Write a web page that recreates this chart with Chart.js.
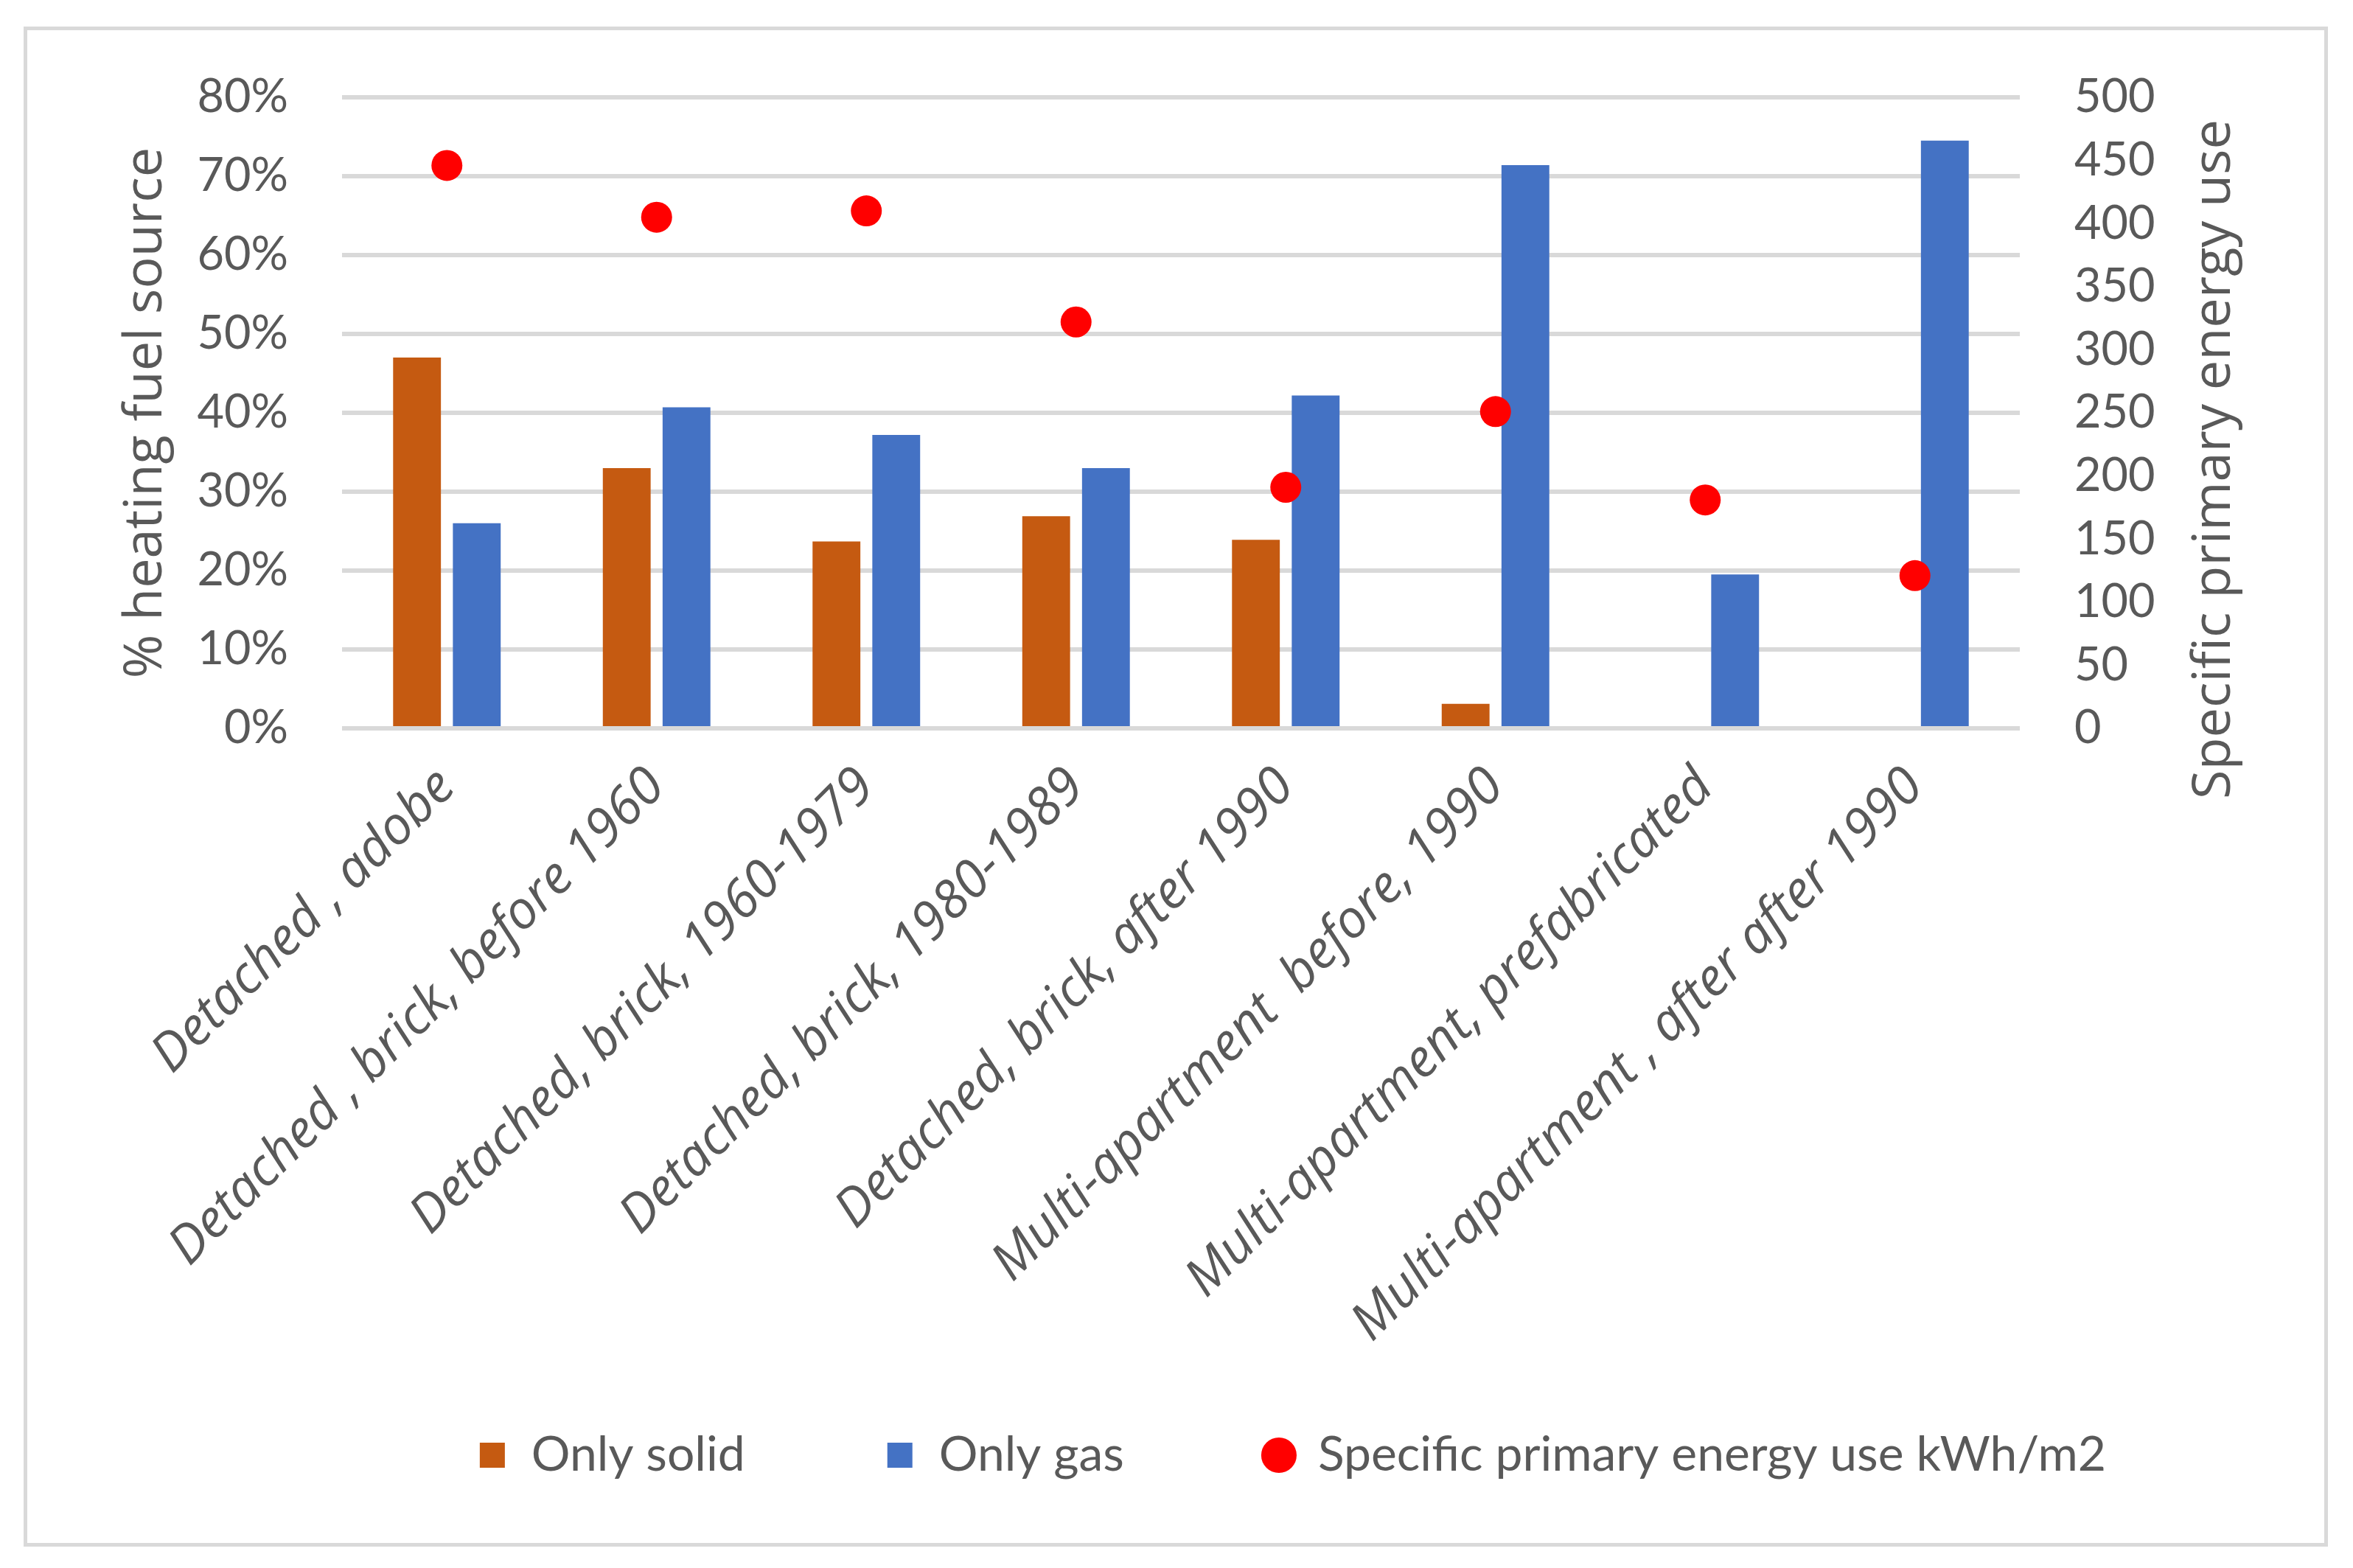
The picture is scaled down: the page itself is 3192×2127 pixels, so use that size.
<!DOCTYPE html>
<html lang="en">
<head>
  <meta charset="UTF-8">
  <title>Heating fuel source and primary energy use</title>
  <script src="https://cdn.jsdelivr.net/npm/chart.js"></script>
  <style>
    html, body {
      margin: 0;
      padding: 0;
      background: #ffffff;
      overflow: hidden;
    }
    #frame {
      position: absolute;
      left: 32px;
      top: 36px;
      width: 3116px;
      height: 2052px;
      border: 5px solid #d9d9d9;
    }
    #chartBox {
      position: absolute;
      left: 0;
      top: 0;
      width: 3192px;
      height: 2127px;
    }
  </style>
</head>
<body>
  <div id="frame"></div>
  <div id="chartBox">
    <canvas id="fuelChart"></canvas>
  </div>

  <script>
    // categories (x axis)
    const categories = [
      'Detached , adobe',
      'Detached , brick, before 1960',
      'Detached, brick, 1960-1979',
      'Detached, brick, 1980-1989',
      'Detached, brick, after 1990',
      'Multi-apartment  before, 1990',
      'Multi-apartment, prefabricated',
      'Multi-apartment , after after 1990'
    ];

    // % of heating fuel source (left axis)
    const onlySolid = [47.0, 33.0, 23.7, 26.9, 23.9, 3.1, null, null];
    const onlyGas = [26.0, 40.7, 37.2, 33.0, 42.2, 71.4, 19.5, 74.5];

    // specific primary energy use, kWh/m2 (right axis)
    const energyUse = [446, 405, 410, 322, 191, 251, 181, 121];

    const seriesNames = ['Only solid', 'Only gas', 'Specific primary energy use kWh/m2'];
    const leftTitle = '% heating fuel source';
    const rightTitle = 'Specific primary energy use';

    const textColor = '#595959';
    const gridColor = '#d9d9d9';

    // right axis title reads bottom-to-top, which the scale title can't do
    const rightTitlePlugin = {
      id: 'rightTitle',
      afterDraw(chart) {
        const ctx = chart.ctx;
        const area = chart.chartArea;
        const x = chart.scales.y1.right - 43;
        const y = (area.top + area.bottom) / 2 + 63;
        ctx.save();
        ctx.font = '72px "Open Sans"';
        ctx.fillStyle = textColor;
        ctx.textAlign = 'center';
        ctx.textBaseline = 'middle';
        ctx.translate(x, y);
        ctx.rotate(-Math.PI / 2);
        ctx.fillText(rightTitle, 0, 0);
        ctx.restore();
      }
    };

    const ctx = document.getElementById('fuelChart').getContext('2d');

    new Chart(ctx, {
      type: 'bar',
      data: {
        labels: categories,
        datasets: [
          {
            label: seriesNames[0],
            data: onlySolid,
            backgroundColor: '#c55a11',
            pointStyle: 'rect',
            yAxisID: 'y',
            categoryPercentage: 0.57,
            barPercentage: 0.8
          },
          {
            label: seriesNames[1],
            data: onlyGas,
            backgroundColor: '#4472c4',
            pointStyle: 'rect',
            yAxisID: 'y',
            categoryPercentage: 0.57,
            barPercentage: 0.8
          },
          {
            label: seriesNames[2],
            data: energyUse,
            type: 'line',
            showLine: false,
            yAxisID: 'y1',
            order: -1,
            backgroundColor: '#ff0000',
            borderColor: '#ff0000',
            pointBackgroundColor: '#ff0000',
            pointBorderWidth: 0,
            pointRadius: 21,
            pointHoverRadius: 21,
            pointStyle: 'circle'
          }
        ]
      },
      options: {
        responsive: true,
        maintainAspectRatio: false,
        animation: false,
        layout: {
          padding: { left: 155, right: 145, top: 132, bottom: 110 }
        },
        plugins: {
          tooltip: { enabled: false },
          legend: {
            position: 'bottom',
            align: 'end',
            labels: {
              usePointStyle: true,
              boxHeight: 34,
              padding: 190,
              color: textColor,
              font: { family: 'Lato', size: 66 },
              sort: (a, b) => a.datasetIndex - b.datasetIndex
            }
          }
        },
        scales: {
          x: {
            grid: { display: false },
            border: { display: false },
            ticks: {
              autoSkip: false,
              minRotation: 45,
              maxRotation: 45,
              padding: 30,
              color: textColor,
              font: { family: 'Open Sans', size: 71, style: 'italic' }
            },
            afterFit: (scale) => {
              scale.height = 763;
              // long rotated labels run past the legend's top padding; don't clip them
              scale._computeLabelArea = () => null;
            }
          },
          y: {
            position: 'left',
            min: 0,
            max: 80,
            grid: { color: gridColor, lineWidth: 6, drawTicks: false },
            border: { display: false },
            ticks: {
              stepSize: 10,
              padding: 73,
              color: textColor,
              font: { family: 'Lato', size: 63 },
              callback: (v) => v + '%'
            },
            title: {
              display: true,
              text: leftTitle,
              color: textColor,
              padding: { top: 0, bottom: 0 },
              font: { family: 'Open Sans', size: 72 }
            },
            afterFit: (scale) => { scale.width = 309; }
          },
          y1: {
            position: 'right',
            min: 0,
            max: 500,
            grid: { drawOnChartArea: false, drawTicks: false },
            border: { display: false },
            ticks: {
              stepSize: 50,
              padding: 74,
              color: textColor,
              font: { family: 'Lato', size: 63 }
            },
            afterFit: (scale) => { scale.width = 307; }
          }
        }
      },
      plugins: [rightTitlePlugin]
    });
  </script>
</body>
</html>
